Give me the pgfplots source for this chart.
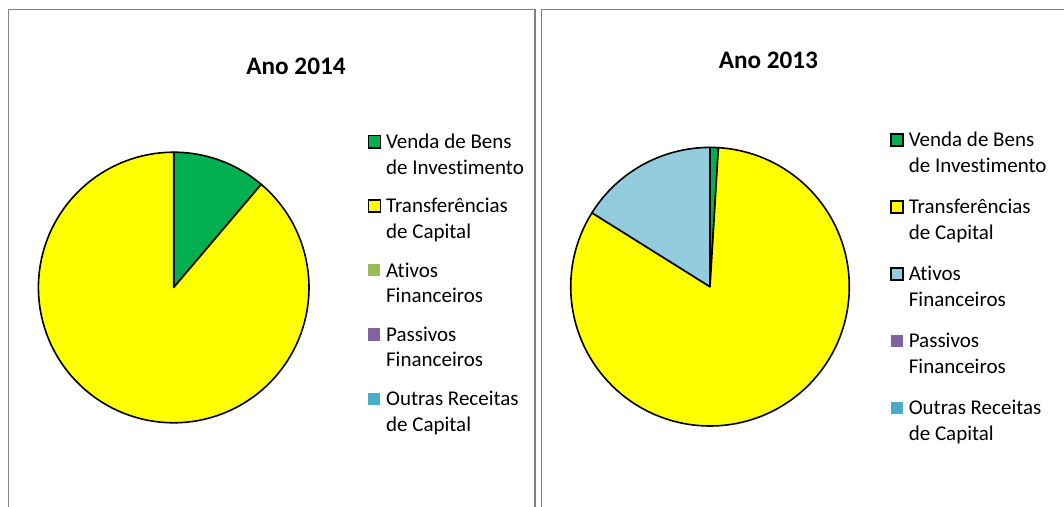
\documentclass[border=0pt]{standalone}
\usepackage{pgfplots}
\pgfplotsset{compat=1.18}
\usepackage{pgfplotstable}
\usepackage{fontspec}
\setmainfont{Carlito}[RawFeature={-liga;-clig;-calt;-dlig}]
\definecolor{cVenda}{HTML}{00B050}
\definecolor{cTransf}{HTML}{FFFF00}
\definecolor{cAtivosA}{HTML}{9BBB59}
\definecolor{cAtivosB}{HTML}{93CDDD}
\definecolor{cPassivos}{HTML}{8064A2}
\definecolor{cOutras}{HTML}{4BACC6}
\definecolor{frame}{HTML}{808080}

% shares (%), clockwise from 12 o'clock
\pgfplotstableread{
cat value
Venda 11.2
Transf 88.8
Ativos 0
Passivos 0
Outras 0
}\dataA
\pgfplotstableread{
cat value
Venda 0.96
Transf 82.94
Ativos 16.1
Passivos 0
Outras 0
}\dataB

\newcommand\legfont{\fontsize{21}{25.5}\selectfont}
\newcommand\titfont{\fontsize{25.2}{30}\selectfont\bfseries}
\newcommand\entry[2]{\begin{tabular}[t]{@{}l@{}}#1\\#2\end{tabular}}
% cx, cy, r, from angle, to angle, colour
\newcommand\slice[6]{%
  \addplot[fill=#6, draw=black, line width=1.6pt, line join=round,
    domain=#4:#5, samples=120, variable=\t, forget plot]
    ({#1+#3*cos(\t)},{#2-#3*sin(\t)}) -- (axis cs:#1,#2) -- cycle;
}

\pgfplotsset{
  piebase/.style={
    at={(0,0)}, anchor=south west, x=1pt, y=1pt,
    xmin=0, xmax=1064, ymin=0, ymax=506, y dir=reverse,
    hide axis, scale only axis, clip=false,
    legend image code/.code={\path[##1] (0.75pt,0.75pt) rectangle (12.85pt,12.85pt);},
    legend style={draw=none, fill=none, inner sep=0pt, row sep=0pt, column sep=5pt,
      cells={anchor=base west},
      nodes={inner sep=0pt, text height=17pt, font=\legfont}},
  },
}

\begin{document}
\begin{tikzpicture}
\path[use as bounding box] (0,0) rectangle (1064pt,506pt);

\pgfplotstablegetelem{0}{value}\of\dataA \pgfmathsetmacro\AvA{\pgfplotsretval}
\pgfplotstablegetelem{1}{value}\of\dataA \pgfmathsetmacro\AvB{\pgfplotsretval}
\pgfmathsetmacro\Aa{90}
\pgfmathsetmacro\Ab{\Aa-3.6*\AvA}
\pgfmathsetmacro\Ac{\Ab-3.6*\AvB}

\pgfplotstablegetelem{0}{value}\of\dataB \pgfmathsetmacro\BvA{\pgfplotsretval}
\pgfplotstablegetelem{1}{value}\of\dataB \pgfmathsetmacro\BvB{\pgfplotsretval}
\pgfplotstablegetelem{2}{value}\of\dataB \pgfmathsetmacro\BvC{\pgfplotsretval}
\pgfmathsetmacro\Ba{90}
\pgfmathsetmacro\Bb{\Ba-3.6*\BvA}
\pgfmathsetmacro\Bc{\Bb-3.6*\BvB}
\pgfmathsetmacro\Bd{\Bc-3.6*\BvC}

% ---------------- Ano 2014 ----------------
\begin{axis}[piebase,
  legend style={at={(axis cs:367.3,131.3)}, anchor=north west,
    nodes={text depth=47.25pt}}]
  \draw[frame, line width=1.8pt] (axis cs:8.5,530) -- (axis cs:8.5,9.5) -- (axis cs:535,9.5) -- (axis cs:535,530);
  \node[anchor=base, font=\titfont] at (axis cs:296,74) {Ano 2014};
  \slice{173.7}{287.5}{135.3}{\Ab}{\Aa}{cVenda}
  \slice{173.7}{287.5}{135.3}{\Ac}{\Ab}{cTransf}
  \addlegendimage{fill=cVenda, draw=black, line width=1.5pt}
  \addlegendentry{\entry{Venda de Bens}{de Investimento}}
  \addlegendimage{fill=cTransf, draw=black, line width=1.5pt}
  \addlegendentry{\entry{Transferências}{de Capital}}
  \addlegendimage{fill=cAtivosA, draw=none}
  \addlegendentry{\entry{Ativos}{Financeiros}}
  \addlegendimage{fill=cPassivos, draw=none}
  \addlegendentry{\entry{Passivos}{Financeiros}}
  \addlegendimage{fill=cOutras, draw=none}
  \addlegendentry{\entry{Outras Receitas}{de Capital}}
\end{axis}

% ---------------- Ano 2013 ----------------
\begin{axis}[piebase,
  legend style={at={(axis cs:890,129.7)}, anchor=north west,
    nodes={text depth=50pt}}]
  \draw[frame, line width=1.8pt] (axis cs:541.5,530) -- (axis cs:541.5,9.5) -- (axis cs:1080,9.5);
  \node[anchor=base, font=\titfont] at (axis cs:768.3,68) {Ano 2013};
  \slice{710}{286.7}{139.3}{\Bb}{\Ba}{cVenda}
  \slice{710}{286.7}{139.3}{\Bc}{\Bb}{cTransf}
  \slice{710}{286.7}{139.3}{\Bd}{\Bc}{cAtivosB}
  \addlegendimage{fill=cVenda, draw=black, line width=1.5pt}
  \addlegendentry{\entry{Venda de Bens}{de Investimento}}
  \addlegendimage{fill=cTransf, draw=black, line width=1.5pt}
  \addlegendentry{\entry{Transferências}{de Capital}}
  \addlegendimage{fill=cAtivosB, draw=black, line width=1.5pt}
  \addlegendentry{\entry{Ativos}{Financeiros}}
  \addlegendimage{fill=cPassivos, draw=none}
  \addlegendentry{\entry{Passivos}{Financeiros}}
  \addlegendimage{fill=cOutras, draw=none}
  \addlegendentry{\entry{Outras Receitas}{de Capital}}
\end{axis}
\end{tikzpicture}
\end{document}
